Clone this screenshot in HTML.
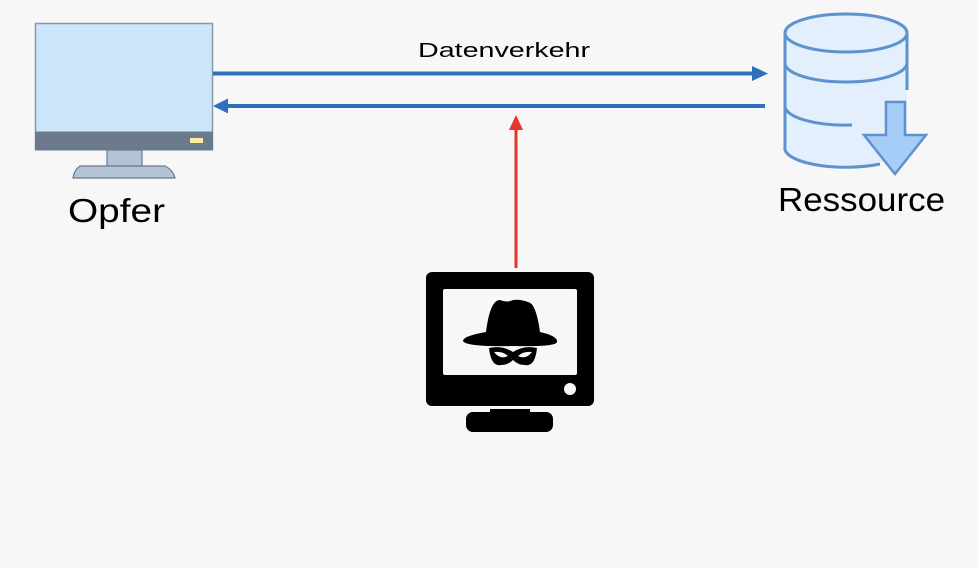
<!DOCTYPE html>
<html><head><meta charset="utf-8"><style>html,body{margin:0;padding:0;background:#f7f7f7}svg{display:block}</style></head>
<body>
<svg width="978" height="568" viewBox="0 0 978 568" xmlns="http://www.w3.org/2000/svg" font-family="'Liberation Sans', sans-serif">
<rect width="978" height="568" fill="#f7f7f7"/>
<!-- Opfer monitor -->
<rect x="35.5" y="23.5" width="177" height="126" fill="#cbe6fb" stroke="#8a98ac" stroke-width="1.5"/>
<rect x="35.5" y="132" width="177" height="18" fill="#6c7a8e" stroke="#6c7a8e"/>
<rect x="190" y="138" width="13" height="5" fill="#fbeea0"/>
<rect x="107" y="150" width="35" height="16" fill="#b3c2d4" stroke="#6c7a8e" stroke-width="1.2"/>
<path d="M80 166 H165 Q173 170 175 178 H73 Q74 170 80 166 Z" fill="#b3c2d4" stroke="#6c7a8e" stroke-width="1.2"/>
<text x="68" y="222" font-size="33" textLength="97" lengthAdjust="spacingAndGlyphs" fill="#000">Opfer</text>
<!-- Database -->
<path d="M785 33 V147 A61 19 0 0 0 907 147 V33 Z" fill="#e3effc"/>
<g stroke="#5e92cf" stroke-width="3" fill="none">
<path d="M785 33 V147 A61 19 0 0 0 880 164"/>
<path d="M907 33 V90"/>
<ellipse cx="846" cy="33" rx="61" ry="19" fill="#e3effc"/>
<path d="M785 63 A61 19 0 0 0 907 63"/>
<path d="M785 106 A61 19 0 0 0 852 125"/>
</g>
<path d="M886 102 H905 V135 H926 L895 174 L864 135 H886 Z" fill="#a6cdf6" stroke="#5e92cf" stroke-width="2.5"/>
<text x="778" y="211" font-size="33" textLength="167" lengthAdjust="spacingAndGlyphs" fill="#000">Ressource</text>
<!-- Traffic arrows -->
<line x1="213" y1="73.5" x2="754" y2="73.5" stroke="#2f6fbd" stroke-width="4"/>
<polygon points="768,73.5 752,66 752,81" fill="#2f6fbd"/>
<line x1="765" y1="106" x2="226" y2="106" stroke="#2f6fbd" stroke-width="4"/>
<polygon points="213,106 228,98.5 228,113.5" fill="#2f6fbd"/>
<text x="504" y="57" font-size="20" text-anchor="middle" textLength="172" lengthAdjust="spacingAndGlyphs" fill="#000">Datenverkehr</text>
<!-- red arrow -->
<line x1="516" y1="268" x2="516" y2="128" stroke="#e8342a" stroke-width="3"/>
<polygon points="516,115 509,130 523,130" fill="#e8342a"/>
<!-- Attacker -->
<rect x="426" y="272" width="168" height="134" rx="6" fill="#000"/>
<rect x="443" y="289" width="134" height="86" rx="2" fill="#f7f7f7"/>
<circle cx="570" cy="389" r="6" fill="#f7f7f7"/>
<rect x="490" y="409" width="40" height="5" fill="#000"/>
<rect x="466" y="412" width="87" height="20" rx="7" fill="#000"/>
<path d="M486 332 Q490 300 500 300 Q507 303 513 300 Q520 299 528 302 Q536 303 540 332 Q558 336 557 342 Q556 347 513 346 Q466 347 463 341 Q463 336 486 332 Z" fill="#000"/>
<path d="M489 348 Q502 345 513 352 Q524 345 537 348 Q535 367 525 365 Q518 365 513 360 Q508 365 501 365 Q491 367 489 348 Z" fill="#000"/>
<path d="M494 352 Q503 351 508 356 Q500 360 494 352 Z" fill="#f7f7f7"/>
<path d="M532 352 Q523 351 518 356 Q526 360 532 352 Z" fill="#f7f7f7"/>
</svg>
</body></html>
